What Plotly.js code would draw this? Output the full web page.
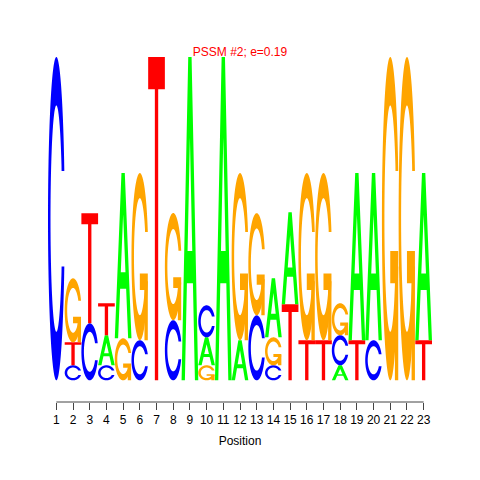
<!DOCTYPE html>
<html>
<head>
<meta charset="utf-8">
<script src="https://cdn.plot.ly/plotly-3.0.1.min.js"></script>
<style>html,body{margin:0;padding:0;background:#fff;}#chart{width:480px;height:480px;}</style>
</head>
<body>
<div id="chart"></div>
<script>
// Position of each column
var positions = [1,2,3,4,5,6,7,8,9,10,11,12,13,14,15,16,17,18,19,20,21,22,23];
// Letter heights (bits) per position
var heightA = [0,0,0,0.186,1.022,0,0,0,2,0.173,2,0.248,0,0.365,0.57,0,0,0.093,1.034,1.034,0,0,1.034];
var heightC = [2,0.093,0.353,0.093,0,0.248,0,0.372,0,0.198,0,0,0.402,0.093,0,0,0,0.186,0,0.248,0,0,0];
var heightG = [0,0.396,0,0,0.26,1.034,0,0.663,0,0.093,0,1.034,0.632,0.173,0,1.034,1.034,0.198,0,0,2,2,0];
var heightT = [0,0.142,0.681,0.198,0,0,2,0,0,0,0,0,0,0,0.47,0.248,0.248,0,0.248,0,0,0,0.248];
var letters = ['A','C','G','T'];
var letterColors = {A:'#00FF00', C:'#0000FF', G:'#FFA500', T:'#FF0000'};
var titleText = 'PSSM #2; e=0.19';
var xTitle = 'Position';

function seq(a,b,n){var r=[];for(var i=0;i<n;i++)r.push(a+(b-a)*i/(n-1));return r;}
// unit-box glyph outlines (seqLogo style)
function ringPoly(){
  var N=40;
  var a1=seq(0.3+Math.PI/2,Math.PI,N), a2=seq(Math.PI,1.5*Math.PI,N);
  var xl=[],yl=[];
  a1.forEach(function(a){xl.push(0.5+0.5*Math.sin(a));yl.push(0.5+0.5*Math.cos(a));});
  var maxY1=Math.max.apply(null,yl.slice(0));
  a2.forEach(function(a){xl.push(0.5+0.5*Math.sin(a));yl.push(0.5+0.5*Math.cos(a));});
  var x=xl.slice(), y=yl.slice();
  for(var i=xl.length-1;i>=0;i--){x.push(xl[i]);y.push(1-yl[i]);}
  var xi1=[],yi1=[];
  a1.forEach(function(a){var yy=0.5+0.35*Math.cos(a);if(yy<=maxY1){xi1.push(0.5+0.35*Math.sin(a));yi1.push(yy);}});
  yi1[0]=maxY1;
  var xi=xi1.slice(), yi=yi1.slice();
  a2.forEach(function(a){xi.push(0.5+0.35*Math.sin(a));yi.push(0.5+0.35*Math.cos(a));});
  var x1=xi.slice(), y1=yi.slice();
  for(var j=xi.length-1;j>=0;j--){x1.push(xi[j]);y1.push(1-yi[j]);}
  for(var k=x1.length-1;k>=0;k--){x.push(x1[k]);y.push(y1[k]);}
  return {x:x,y:y,r1:Math.max.apply(null,xl.slice(0,N))};
}
var RING=ringPoly();
function glyphPolys(L){
  if(L==='A') return [
    {x:[0,0.4,0.6,1,0.8,0.68,0.32,0.2],y:[0,1,1,0,0,0.3,0.3,0]},
    {x:[0.36,0.64,0.5],y:[0.4,0.4,0.75]}];
  if(L==='T') return [{x:[0,1,1,0.6,0.6,0.4,0.4,0],y:[1,1,0.9,0.9,0,0,0.9,0.9]}];
  if(L==='C') return [{x:RING.x,y:RING.y}];
  if(L==='G'){var r1=RING.r1,h1=0.4;return [{x:RING.x,y:RING.y},
    {x:[r1,0.5,0.5,r1-0.2,r1-0.2,r1,r1],y:[h1,h1,h1-0.1,h1-0.1,0,0,h1]}];}
}
function toPath(poly,x0,y0,w,h){
  var s='';
  for(var i=0;i<poly.x.length;i++){
    s+=(i===0?'M':'L')+(x0+w*poly.x[i]).toFixed(5)+','+(y0+h*poly.y[i]).toFixed(5);
  }
  return s+'Z';
}

var heights={A:heightA,C:heightC,G:heightG,T:heightT};
var shapes=[];
positions.forEach(function(p,i){
  var col=letters.map(function(L){return {L:L,h:heights[L][i]};}).filter(function(o){return o.h>0;});
  col.sort(function(a,b){return a.h-b.h;});
  var y0=0;
  col.forEach(function(o){
    var polys=glyphPolys(o.L);
    if(o.L==='A'){
      shapes.push({type:'path',xref:'x',yref:'y',path:toPath(polys[0],p-0.5,y0,1,o.h)+toPath(polys[1],p-0.5,y0,1,o.h),
        fillcolor:letterColors.A,fillrule:'evenodd',line:{width:0},layer:'above'});
    } else {
      polys.forEach(function(pl){
        shapes.push({type:'path',xref:'x',yref:'y',path:toPath(pl,p-0.5,y0,1,o.h),
          fillcolor:letterColors[o.L],line:{width:0},layer:'above'});
      });
    }
    y0+=o.h;
  });
});
// axis line from first to last position
shapes.push({type:'line',xref:'x',yref:'paper',x0:positions[0],x1:positions[positions.length-1],y0:0,y1:0,
  line:{color:'#444',width:1}});

var layout={
  width:480,height:480,
  margin:{l:48,r:48,t:57,b:78,pad:0},
  paper_bgcolor:'#fff',plot_bgcolor:'#fff',
  showlegend:false,
  title:{text:titleText,font:{family:'Liberation Sans, Arial',size:12,color:'#FF0000'},
    x:0.5,xref:'paper',xanchor:'center',y:1-52/480,yref:'container',yanchor:'middle'},
  xaxis:{range:[0.5,23.5],tickvals:positions,ticktext:positions.map(String),ticks:'outside',ticklen:7,
    tickcolor:'#444',tickwidth:1,showline:false,showgrid:false,zeroline:false,
    tickfont:{family:'Liberation Sans, Arial',size:12,color:'#000'},
    title:{text:xTitle,font:{family:'Liberation Sans, Arial',size:12,color:'#000'},standoff:10},
    fixedrange:true},
  yaxis:{range:[-0.134,2],visible:false,showgrid:false,zeroline:false,fixedrange:true},
  shapes:shapes
};
Plotly.newPlot('chart',[{x:[],y:[],type:'scatter',mode:'markers',hoverinfo:'skip'}],layout,{displayModeBar:false,staticPlot:true});
</script>
</body>
</html>
